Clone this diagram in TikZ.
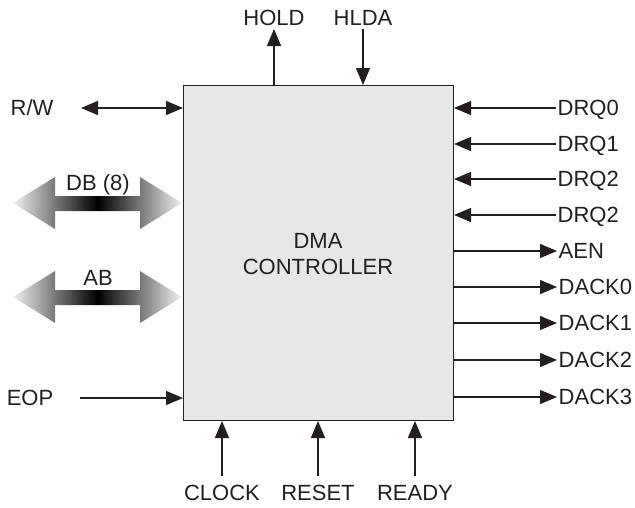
\documentclass[tikz,border=0pt]{standalone}
\usepackage{fontspec}
\setmainfont{Liberation Sans}
\usetikzlibrary{positioning,arrows.meta}

\definecolor{boxgray}{HTML}{E6E7E8}
\definecolor{inkgray}{HTML}{231F20}

\begin{document}
\begin{tikzpicture}[x=1pt,y=-1pt,font=\fontsize{22}{26}\selectfont,
  sig/.style={draw=inkgray,line width=1.3pt,-{Triangle[length=17pt,width=14pt]}},
  bidir/.style={draw=inkgray,line width=1.3pt,{Triangle[length=17pt,width=14pt]}-{Triangle[length=17pt,width=14pt]}},
  lbl/.style={inner sep=1.5pt,text height=15.5pt,text depth=0pt,text=inkgray},
  busarrow/.style={left color=gray!12,right color=gray!12,middle color=black}]
  \useasboundingbox (0,0) rectangle (635,507);
  \node[draw=inkgray,line width=1pt,fill=boxgray,minimum width=270pt,minimum height=335pt,
    inner sep=0pt,anchor=north west] (dma) at (183,85) {};
  \node[lbl,align=center,text height=,text depth=,text=inkgray] (title) at (318,254) {DMA\\CONTROLLER};
  % top
  \node[lbl] (hold) at (274,18) {HOLD};
  \node[lbl] (hlda) at (363,18) {HLDA};
  \coordinate (holdend) at (274,29);
  \coordinate (hldaend) at (363,29);
  \draw[sig] (dma.north -| holdend) -- (holdend);
  \draw[sig] (hldaend) -- (dma.north -| hldaend);
  % bottom
  \node[lbl] (clock) at (222,493) {CLOCK};
  \node[lbl] (reset) at (318,493) {RESET};
  \node[lbl] (ready) at (415,493) {READY};
  \coordinate (clockend) at (222,476); \coordinate (resetend) at (318,476);
  \coordinate (readyend) at (415,476);
  \draw[sig] (clockend) -- (dma.south -| clockend);
  \draw[sig] (resetend) -- (dma.south -| resetend);
  \draw[sig] (readyend) -- (dma.south -| readyend);
  % left
  \node[lbl] (rw) at (32,108) {R/W};
  \coordinate (rwend) at (81,108);
  \draw[bidir] (rwend) -- (dma.west |- rwend);
  \node[lbl] (eop) at (30,398) {EOP};
  \coordinate (eopend) at (80,398);
  \draw[sig] (eopend) -- (dma.west |- eopend);
  % buses
  \shade[busarrow] (13,203) -- (55,177) -- (55,196) -- (140,196) -- (140,177) -- (182,203)
    -- (140,229) -- (140,211) -- (55,211) -- (55,229) -- cycle;
  \node[lbl] (db) at (98,183) {DB (8)};
  \shade[busarrow] (13,297) -- (55,271) -- (55,290) -- (140,290) -- (140,271) -- (182,297)
    -- (140,323) -- (140,305) -- (55,305) -- (55,323) -- cycle;
  \node[lbl] (ab) at (98,278) {AB};
  % right inputs
  \coordinate (drqa) at (556,108); \coordinate (drqb) at (556,144);
  \coordinate (drqc) at (556,179); \coordinate (drqd) at (556,215);
  \node[lbl,right=0pt of drqa] (drqatxt) {DRQ0};
  \node[lbl,right=0pt of drqb] (drqbtxt) {DRQ1};
  \node[lbl,right=0pt of drqc] (drqctxt) {DRQ2};
  \node[lbl,right=0pt of drqd] (drqdtxt) {DRQ2};
  \draw[sig] (drqa) -- (dma.east |- drqa);
  \draw[sig] (drqb) -- (dma.east |- drqb);
  \draw[sig] (drqc) -- (dma.east |- drqc);
  \draw[sig] (drqd) -- (dma.east |- drqd);
  % right outputs
  \coordinate (aen) at (557,251); \coordinate (dacka) at (557,287);
  \coordinate (dackb) at (557,323); \coordinate (dackc) at (557,360);
  \coordinate (dackd) at (557,397);
  \node[lbl,right=0pt of aen] (aentxt) {AEN};
  \node[lbl,right=0pt of dacka] (dackatxt) {DACK0};
  \node[lbl,right=0pt of dackb] (dackbtxt) {DACK1};
  \node[lbl,right=0pt of dackc] (dackctxt) {DACK2};
  \node[lbl,right=0pt of dackd] (dackdtxt) {DACK3};
  \draw[sig] (dma.east |- aen) -- (aen);
  \draw[sig] (dma.east |- dacka) -- (dacka);
  \draw[sig] (dma.east |- dackb) -- (dackb);
  \draw[sig] (dma.east |- dackc) -- (dackc);
  \draw[sig] (dma.east |- dackd) -- (dackd);
\end{tikzpicture}
\end{document}
